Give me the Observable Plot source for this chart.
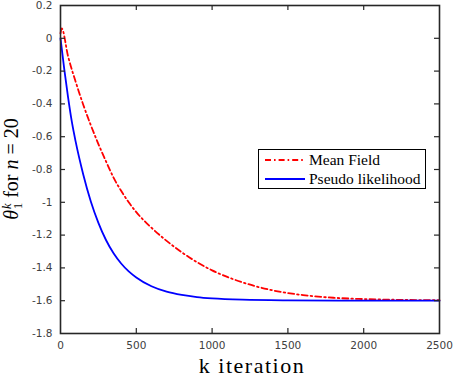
<!DOCTYPE html>
<html>
<head>
<meta charset="utf-8">
<script src="https://cdn.jsdelivr.net/npm/d3@7"></script>
<script src="https://cdn.jsdelivr.net/npm/@observablehq/plot@0.6"></script>
<style>
  body { margin: 0; background: #fff; }
  #wrap { position: relative; width: 454px; height: 377px; overflow: hidden; }
  .ylab { position: absolute; left: 13px; top: 169px; transform: translate(-50%, -50%) rotate(-90deg);
          font-family: "Liberation Serif", serif; font-size: 20px; white-space: nowrap; color: #000; }
  .ss { display: inline-block; vertical-align: -0.35em; font-size: 0.62em; line-height: 0.95; margin-left: 1px; }
  .ss span { display: block; }
  .xlab { position: absolute; left: 252px; top: 366px; transform: translate(-50%, -50%); line-height: 1;
          font-family: "Liberation Serif", serif; font-size: 22px; letter-spacing: 1.5px; white-space: nowrap; color: #000; }
  .legend { position: absolute; left: 258px; top: 149px; width: 168px; height: 40px; border: 1px solid #000;
            background: #fff; box-sizing: border-box; font-family: "Liberation Serif", serif; font-size: 15.5px; }
  .legend .row { position: absolute; left: 6px; height: 18px; display: flex; align-items: center; }
  .legend svg { margin-right: 4px; }
</style>
</head>
<body>
<div id="wrap"></div>
<script>
const seriesNames = ["Mean Field", "Pseudo likelihood"];
const kMean = [0, 8, 50, 100, 150, 200, 250, 300, 350, 400, 450, 500, 600, 700, 800, 900, 1000, 1100, 1200, 1300, 1400, 1600, 1800, 2000, 2250, 2500];
const vMean = [0.03, 0.06, -0.11, -0.265, -0.405, -0.53, -0.645, -0.75, -0.85, -0.93, -1.0, -1.06, -1.155, -1.235, -1.305, -1.365, -1.415, -1.455, -1.488, -1.515, -1.537, -1.566, -1.582, -1.59, -1.595, -1.597];
const kPseudo = [0, 25, 50, 75, 100, 150, 200, 250, 300, 350, 400, 450, 500, 600, 700, 800, 900, 1000, 1200, 1500, 2000, 2500];
const vPseudo = [0, -0.19, -0.36, -0.51, -0.63, -0.83, -0.995, -1.125, -1.23, -1.311, -1.373, -1.421, -1.458, -1.512, -1.545, -1.565, -1.578, -1.586, -1.594, -1.598, -1.6, -1.6];
const xTicks = [0, 500, 1000, 1500, 2000, 2500];
const yTicks = [0.2, 0, -0.2, -0.4, -0.6, -0.8, -1, -1.2, -1.4, -1.6, -1.8];
const xLabel = "k iteration";

const W = 454, H = 377, mL = 60, mR = 15, mT = 5, mB = 44;
const pw = W - mL - mR, ph = H - mT - mB, tk = 5;
const meanData = kMean.map((k, i) => ({k, v: vMean[i]}));
const pseudoData = kPseudo.map((k, i) => ({k, v: vPseudo[i]}));
const axisColor = "#262626";
const fmt = d => String(+(+d).toFixed(1));

const chart = Plot.plot({
  width: W, height: H,
  marginLeft: mL, marginRight: mR, marginTop: mT, marginBottom: mB,
  x: {domain: [0, 2500]},
  y: {domain: [-1.8, 0.2]},
  style: {fontFamily: "DejaVu Sans, sans-serif", fontSize: "10.5px", color: "#404040", background: "#fff"},
  marks: [
    Plot.line(meanData, {x: "k", y: "v", stroke: "#ff0000", strokeWidth: 1.8, strokeDasharray: "6,3,1.6,3", curve: "monotone-x"}),
    Plot.line(pseudoData, {x: "k", y: "v", stroke: "#0000ff", strokeWidth: 1.8, curve: "monotone-x"}),
    Plot.tickX(xTicks.slice(1, -1), {x: d => d, insetTop: ph - tk, stroke: axisColor, strokeWidth: 1.2}),
    Plot.tickX(xTicks.slice(1, -1), {x: d => d, insetBottom: ph - tk, stroke: axisColor, strokeWidth: 1.2}),
    Plot.tickY(yTicks.slice(1, -1), {y: d => d, insetRight: pw - tk, stroke: axisColor, strokeWidth: 1.2}),
    Plot.tickY(yTicks.slice(1, -1), {y: d => d, insetLeft: pw - tk, stroke: axisColor, strokeWidth: 1.2}),
    Plot.axisX(xTicks, {tickSize: 0, tickPadding: 8, tickFormat: fmt, label: null, fill: "#404040"}),
    Plot.axisY(yTicks, {tickSize: 0, tickPadding: 8, tickFormat: fmt, label: null, fill: "#404040"}),
    Plot.frame({stroke: axisColor, strokeWidth: 1.6})
  ]
});

const wrap = document.getElementById("wrap");
wrap.appendChild(chart);

const ylab = document.createElement("div");
ylab.className = "ylab";
ylab.innerHTML = '<i>θ</i><span class="ss"><span><i>k</i></span><span>1</span></span> for <i>n</i> = 20';
wrap.appendChild(ylab);

const xlab = document.createElement("div");
xlab.className = "xlab";
xlab.textContent = xLabel;
wrap.appendChild(xlab);

const leg = document.createElement("div");
leg.className = "legend";
const styles = [{c: "#ff0000", d: "6,3,1.6,3"}, {c: "#0000ff", d: null}];
seriesNames.forEach((name, i) => {
  const row = document.createElement("div");
  row.className = "row";
  row.style.top = (1 + i * 18.5) + "px";
  row.innerHTML = `<svg width="40" height="4"><line x1="0" y1="2" x2="40" y2="2" stroke="${styles[i].c}" stroke-width="1.8" ${styles[i].d ? `stroke-dasharray="${styles[i].d}"` : ""}/></svg><span>${name}</span>`;
  leg.appendChild(row);
});
wrap.appendChild(leg);
</script>
</body>
</html>
